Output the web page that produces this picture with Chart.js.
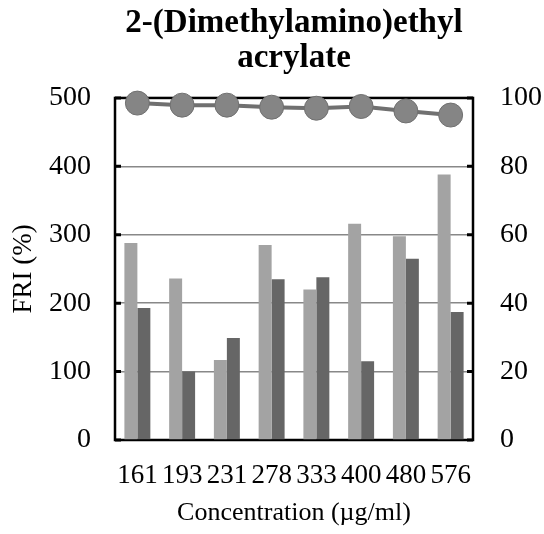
<!DOCTYPE html>
<html>
<head>
<meta charset="utf-8">
<script src="https://cdn.jsdelivr.net/npm/chart.js@4"></script>
<style>
  body { margin: 0; background: #fff; }
  #wrap { width: 544px; height: 534px; }
</style>
</head>
<body>
<div id="wrap"><canvas id="grafico"></canvas></div>
<script>
var concentracoes = ['161', '193', '231', '278', '333', '400', '480', '576'];
var friA = [288, 236, 117, 285, 220, 316, 298, 388];
var friB = [193, 100, 149, 235, 238, 115, 265, 187];
var viabilidade = [98.5, 97.9, 97.9, 97.3, 97.0, 97.5, 96.2, 95.0];

var fonte = "'Liberation Serif', 'Times New Roman', serif";

// black frame round the plot, with short inward ticks on both sides
var moldura = {
    id: 'moldura',
    beforeDatasetsDraw: function(chart) {
        var a = chart.chartArea;
        var ctx = chart.ctx;
        var y = chart.scales.y;
        ctx.save();
        ctx.strokeStyle = '#000';
        ctx.lineWidth = 3;
        y.ticks.forEach(function(t) {
            var py = y.getPixelForValue(t.value);
            ctx.beginPath();
            ctx.moveTo(a.left, py);
            ctx.lineTo(a.left + 6, py);
            ctx.moveTo(a.right, py);
            ctx.lineTo(a.right - 6, py);
            ctx.stroke();
        });
        ctx.lineWidth = 2.5;
        ctx.strokeRect(a.left, a.top, a.right - a.left, a.bottom - a.top);
        ctx.restore();
    }
};

var ctx = document.getElementById('grafico').getContext('2d');
var chart = new Chart(ctx, {
    type: 'bar',
    data: {
        labels: concentracoes,
        datasets: [{
            type: 'line',
            label: 'Viabilidade',
            data: viabilidade,
            yAxisID: 'y1',
            borderColor: '#707070',
            borderWidth: 4,
            backgroundColor: '#858585',
            pointBackgroundColor: '#858585',
            pointBorderColor: '#707070',
            pointBorderWidth: 1,
            pointRadius: 12,
            clip: false,
            order: 0
        }, {
            label: 'FRI A',
            data: friA,
            yAxisID: 'y',
            backgroundColor: '#a3a3a3',
            categoryPercentage: 0.58,
            barPercentage: 1.0,
            order: 1
        }, {
            label: 'FRI B',
            data: friB,
            yAxisID: 'y',
            backgroundColor: '#666666',
            categoryPercentage: 0.58,
            barPercentage: 1.0,
            order: 1
        }]
    },
    options: {
        responsive: true,
        maintainAspectRatio: false,
        animation: false,
        layout: { padding: 0 },
        plugins: {
            legend: { display: false },
            tooltip: { enabled: false },
            title: {
                display: true,
                fullSize: false,
                text: ['2-(Dimethylamino)ethyl', 'acrylate'],
                color: '#000',
                font: { family: fonte, size: 33, weight: 'bold', lineHeight: 1.06 },
                padding: { top: 6, bottom: 22 }
            }
        },
        scales: {
            x: {
                grid: { display: false, drawTicks: false },
                border: { display: false },
                ticks: {
                    color: '#000',
                    font: { family: fonte, size: 27 },
                    padding: 20,
                    maxRotation: 0,
                    autoSkip: false
                },
                title: {
                    display: true,
                    text: 'Concentration (\u00b5g/ml)',
                    color: '#000',
                    font: { family: fonte, size: 26 },
                    padding: { top: 0, bottom: 5 }
                },
                afterFit: function(s) { s.height = 94; }
            },
            y: {
                position: 'left',
                min: 0,
                max: 500,
                ticks: {
                    stepSize: 100,
                    color: '#000',
                    font: { family: fonte, size: 28 },
                    padding: 24
                },
                grid: { color: '#888888', lineWidth: 1.5, drawTicks: false },
                border: { display: false },
                title: {
                    display: true,
                    text: 'FRI (%)',
                    color: '#000',
                    font: { family: fonte, size: 27 },
                    padding: { top: 8, bottom: 0 }
                },
                afterFit: function(s) { s.width = 115; }
            },
            y1: {
                position: 'right',
                min: 0,
                max: 100,
                ticks: {
                    stepSize: 20,
                    color: '#000',
                    font: { family: fonte, size: 28 },
                    padding: 27
                },
                grid: { display: false, drawTicks: false },
                border: { display: false },
                afterFit: function(s) { s.width = 71; }
            }
        }
    },
    plugins: [moldura]
});
</script>
</body>
</html>
